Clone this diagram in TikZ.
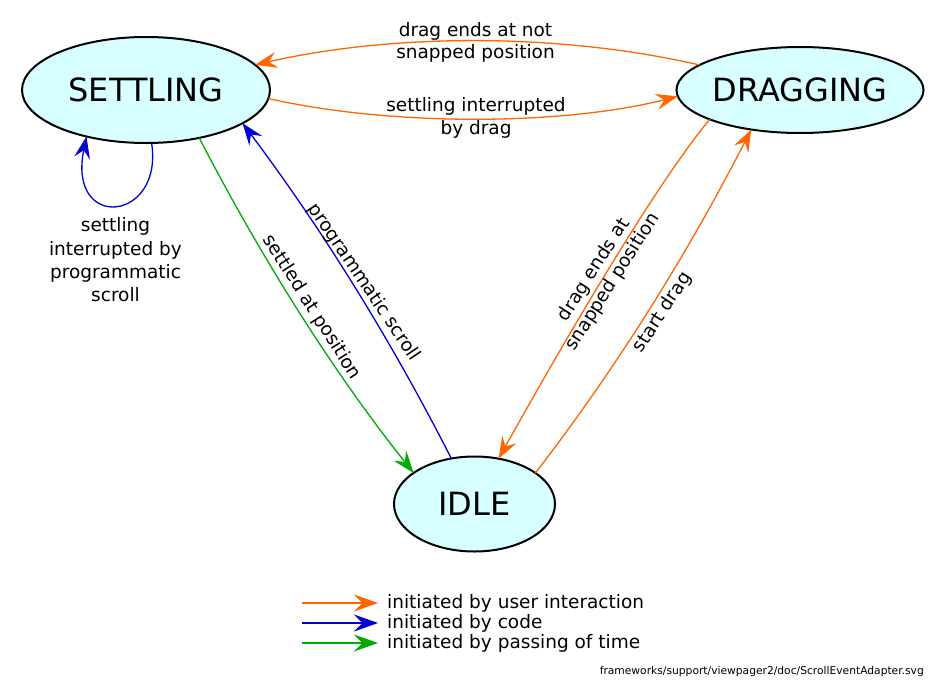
\documentclass[tikz,border=0pt]{standalone}
\usepackage{fontspec}
\setmainfont{DejaVu Sans}
\usetikzlibrary{arrows.meta,shapes.geometric}
\definecolor{userc}{HTML}{FF6600}
\definecolor{codec}{HTML}{0000D4}
\definecolor{timec}{HTML}{00AA00}
\definecolor{statefill}{HTML}{D7FFFF}
\begin{document}
\begin{tikzpicture}[x=1pt,y=-1pt,
  state/.style={ellipse,draw=black,line width=2pt,fill=statefill,inner sep=0pt,outer sep=0pt,font=\fontsize{32}{38}\selectfont},
  conn/.style={line width=1.3pt,-{Stealth[length=22pt,width=16pt,inset=8pt]}},
  legconn/.style={line width=1.3pt,-{Stealth[length=24pt,width=17pt,inset=8.5pt]}},
  lbl/.style={font=\fontsize{18.5}{22.3}\selectfont,align=center,inner sep=0pt},
  legtext/.style={font=\fontsize{18.5}{22}\selectfont,inner sep=0pt,anchor=west},
]
\fill[white] (0,0) rectangle (945,699);
\useasboundingbox (0,0) rectangle (945,699);

% states
\node[state,minimum width=248pt,minimum height=106pt] (set) at (146,90) {SETTLING};
\node[state,minimum width=242pt,minimum height=86pt] (drag) at (800,90) {DRAGGING};
\node[state,minimum width=161pt,minimum height=95pt] (idle) at (474.5,504) {IDLE};

% DRAGGING -> SETTLING (top)
\draw[conn,userc] (drag.166) .. controls (560,33) and (395,33) .. (set.13);
\node[lbl,anchor=base] (l1) at (475.5,58.3) {drag ends at not\\snapped position};

% SETTLING -> DRAGGING
\draw[conn,userc] (set.-4) .. controls (390,126) and (560,126) .. (drag.183);
\node[lbl,anchor=base] (l2) at (476,134) {settling interrupted\\by drag};

% self loop
\draw[conn,codec] (set.-84) .. controls (164,222) and (67,232) .. (set.-142);
\node[lbl,anchor=base,font=\fontsize{18.5}{23.3}\selectfont] (l3) at (115.5,301.7) {settling\\interrupted by\\programmatic\\scroll};

% SETTLING -> IDLE (green)
\draw[conn,timec] (set.-42) .. controls (261,257) and (331,369) .. (idle.153);
\node[lbl,rotate=-57.5] (l4) at (311.5,307.5) {settled at position};

% IDLE -> SETTLING (blue)
\draw[conn,codec] (idle.117) .. controls (391,340) and (322,229) .. (set.-19);
\node[lbl,rotate=-56] (l5) at (364,282.5) {programmatic scroll};

% DRAGGING -> IDLE
\draw[conn,userc] (drag.198) .. controls (655,185) and (562,345) .. (idle.62);
\node[lbl,rotate=57.5] (l6) at (603.5,276) {drag ends at\\snapped position};

% IDLE -> DRAGGING
\draw[conn,userc] (idle.27) .. controls (618,366) and (689,251) .. (drag.219);
\node[lbl,rotate=57] (l7) at (662.5,312.5) {start drag};

% legend
\node[legtext] (g1) at (387,603) {initiated by user interaction};
\node[legtext] (g2) at (387,623) {initiated by code};
\node[legtext] (g3) at (387,643) {initiated by passing of time};
\coordinate (g1s) at (302,603); \coordinate (g1e) at (378,603);
\coordinate (g2s) at (302,623); \coordinate (g2e) at (378,623);
\coordinate (g3s) at (302,643); \coordinate (g3e) at (378,643);
\draw[legconn,userc] (g1s) -- (g1e);
\draw[legconn,codec] (g2s) -- (g2e);
\draw[legconn,timec] (g3s) -- (g3e);

% source path
\node[anchor=east,inner sep=0pt,font=\fontsize{10.7}{12}\selectfont] (src) at (924,672) {frameworks/support/viewpager2/doc/ScrollEventAdapter.svg};
\end{tikzpicture}
\end{document}
